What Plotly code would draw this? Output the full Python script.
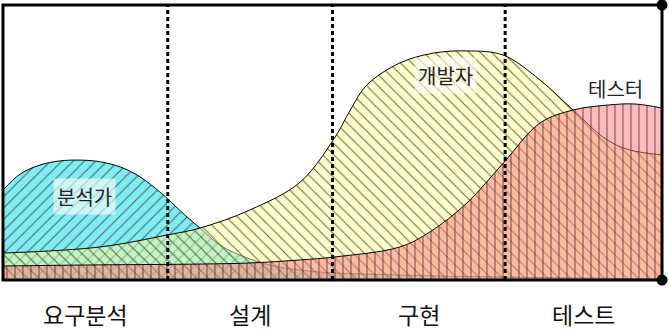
import plotly.graph_objects as go

# ---- data (time 0-100, effort 0-100) ----
analyst_x = [0, 2.6, 5.6, 8.6, 11.7, 14.7, 17.8, 20.8, 23.8, 25.0, 27.6, 29.9, 32.9, 37.5, 42.0, 48.1, 60.2, 75.4, 100]
analyst_y = [32.7, 38.5, 41.8, 43.3, 43.6, 43.0, 41.1, 37.5, 32.0, 29.5, 23.6, 18.9, 12.7, 7.6, 4.7, 2.9, 1.8, 1.1, 0.4]

dev_x = [0, 14.7, 25.0, 29.9, 37.5, 45.1, 50.4, 52.7, 55.2, 60.2, 65.3, 70.4, 75.9, 81.5, 86.5, 91.7, 95.1, 100]
dev_y = [9.8, 12.0, 16.4, 18.9, 25.5, 35.6, 52.0, 61.8, 70.9, 78.9, 82.5, 83.3, 81.8, 72.7, 61.8, 50.9, 47.3, 45.5]

tester_x = [0, 14.7, 29.9, 37.5, 45.1, 50.4, 60.2, 64.8, 70.4, 75.9, 81.5, 86.5, 91.7, 95.9, 100]
tester_y = [5.1, 5.5, 5.8, 6.2, 7.3, 8.4, 12.0, 17.5, 28.0, 42.5, 57.1, 61.8, 63.6, 64.0, 62.5]

phase_bounds = [0, 25.0, 50.0, 76.2, 100]
phase_names = ["요구분석", "설계", "구현", "테스트"]

role_names = ["분석가", "개발자", "테스터"]
role_label_x = [12.4, 67.1, 93.0]
role_label_y = [30.5, 74.5, 69.8]

FONT = "Noto Sans CJK KR, Noto Sans, sans-serif"

fig = go.Figure()

series = [
    (analyst_x, analyst_y, "rgba(0,220,230,0.5)", "/"),
    (dev_x, dev_y, "rgba(255,255,150,0.5)", "\\"),
    (tester_x, tester_y, "rgba(255,120,120,0.5)", "|"),
]
for (xs, ys, col, shp), name in zip(series, role_names):
    fig.add_trace(go.Scatter(
        x=xs, y=ys, mode="lines", name=name,
        line=dict(color="black", width=1, shape="spline", smoothing=1.0),
        fill="tozeroy",
        fillcolor=col,
        fillpattern=dict(shape=shp, bgcolor=col, fgcolor="rgb(50,50,50)",
                         fgopacity=0.75, size=8, solidity=0.13),
        hoverinfo="skip",
    ))

# corner dots
fig.add_trace(go.Scatter(x=[100, 100], y=[0, 100], mode="markers",
                         marker=dict(color="black", size=11),
                         cliponaxis=False, hoverinfo="skip"))

shapes = []
for b in phase_bounds[1:-1]:
    shapes.append(dict(type="line", xref="x", yref="paper", x0=b, x1=b, y0=0, y1=1,
                       line=dict(color="black", width=3, dash="4px,3px")))
shapes.append(dict(type="rect", xref="paper", yref="paper", x0=0, x1=1, y0=0, y1=1,
                   line=dict(color="black", width=3), layer="above"))

annotations = []
for i, name in enumerate(phase_names):
    cx = (phase_bounds[i] + phase_bounds[i + 1]) / 2
    annotations.append(dict(x=cx, y=0, xref="x", yref="paper", text=name,
                            showarrow=False, yanchor="middle", yshift=-34,
                            borderpad=0,
                            font=dict(size=23, color="#111", family=FONT)))
for name, lx, ly, bg in zip(role_names, role_label_x, role_label_y,
                            ["rgba(255,255,255,0.6)", "rgba(255,255,255,0.6)", "rgba(0,0,0,0)"]):
    annotations.append(dict(x=lx, y=ly, xref="x", yref="y", text=name, showarrow=False,
                            bgcolor=bg, borderpad=3,
                            font=dict(size=20, color="#222", family=FONT)))

fig.update_layout(
    width=669, height=332,
    margin=dict(l=3, r=7, t=5, b=52),
    paper_bgcolor="white", plot_bgcolor="white",
    showlegend=False,
    xaxis=dict(range=[0, 100], showgrid=False, zeroline=False, showticklabels=False, ticks=""),
    yaxis=dict(range=[0, 100], showgrid=False, zeroline=False, showticklabels=False, ticks=""),
    shapes=shapes, annotations=annotations,
)

fig.write_html("out.html")
